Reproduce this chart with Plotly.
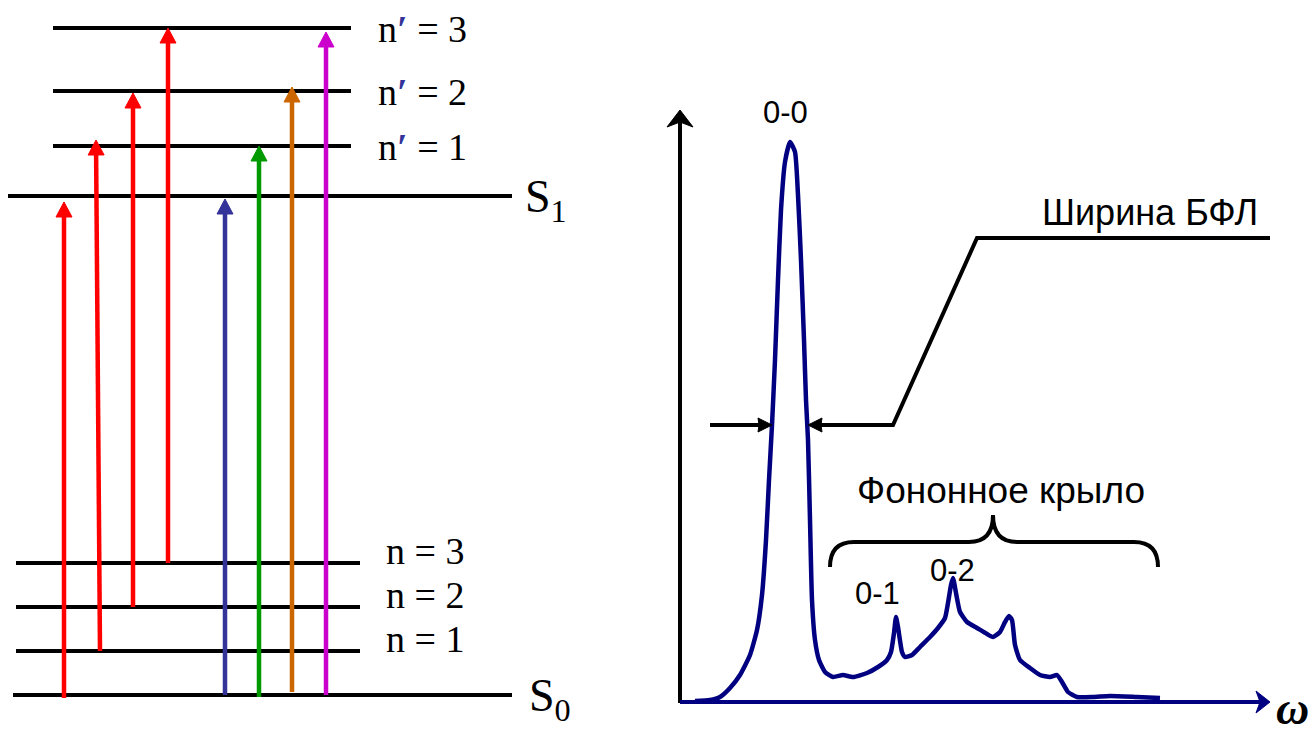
import plotly.graph_objects as go
import numpy as np

# ---------------- data (diagram coordinates, pixel-like units) ----------------
# Left panel: energy levels
upper_vib_labels = ["n′ = 1", "n′ = 2", "n′ = 3"]
upper_vib_y = [146, 91, 28]
upper_vib_x = [53, 351]
s1_label = "S<sub>1</sub>"
s1_y = 196
s1_x = [8, 512]
lower_vib_labels = ["n = 1", "n = 2", "n = 3"]
lower_vib_y = [651, 607, 563]
lower_vib_x = [16, 360]
s0_label = "S<sub>0</sub>"
s0_y = 695
s0_x = [13, 512]

# Transitions (arrows)
trans_x_start = [64, 100, 133, 168, 225, 259, 292, 326]
trans_x_end = [64, 96, 133, 168, 225, 259, 292, 326]
trans_y_start = [698, 651, 607, 563, 695, 697, 692, 695]
trans_y_end = [202, 140, 93, 28, 199, 146, 87, 32]
trans_colors = ["#FF0000", "#FF0000", "#FF0000", "#FF0000",
                "#333399", "#009900", "#CC6600", "#CC00CC"]

# Right panel: spectrum
axis_origin = [680, 702]
axis_x_end = 1270
axis_y_end = 110
spec_x = [695, 710, 720, 730, 740, 750, 757, 762, 766, 769, 772, 775, 778, 781,
          785, 790, 795, 798, 801, 804, 806, 808, 810, 812, 815, 819, 825, 833,
          843, 853, 867, 878, 887, 891, 894, 896, 898, 902, 905, 912, 920, 930,
          938, 945, 948, 951, 953, 956, 960, 967, 977, 987, 993, 1000, 1005,
          1009, 1012, 1015, 1020, 1030, 1040, 1050, 1057, 1062, 1068, 1077,
          1093, 1110, 1137, 1160]
spec_y = [701, 700, 697, 688, 675, 655, 630, 595, 540, 480, 425, 360, 280, 210,
          162, 142, 152, 195, 260, 340, 400, 440, 520, 600, 640, 660, 672, 677,
          675, 677, 673, 667, 660, 652, 633, 617, 627, 652, 657, 655, 647, 637,
          628, 618, 603, 585, 578, 593, 612, 622, 628, 634, 637, 632, 622,
          616, 620, 645, 660, 668, 675, 677, 675, 682, 692, 697,
          697, 696, 697, 698]
peak_labels = ["0-0", "0-1", "0-2"]
peak_label_x = [785, 877, 952]
peak_label_y = [112, 593, 570]
fwhm_y = 425
fwhm_left = 772
fwhm_right = 808
fwhm_text = "Ширина БФЛ"
fwhm_leader_x = [808, 893, 977, 1270]
fwhm_leader_y = [425, 425, 238, 238]
wing_text = "Фононное крыло"
brace_x = [830, 993, 1158]
brace_y = [567, 542, 515]
omega_label = "ω"

SERIF = "Liberation Serif"
SANS = "Liberation Sans"
NAVY = "#000080"

fig = go.Figure()


def add_line(xs, ys, color="black", width=4):
    fig.add_trace(go.Scatter(x=xs, y=ys, mode="lines",
                             line=dict(color=color, width=width),
                             hoverinfo="skip", showlegend=False))


def add_head(tx, ty, dx, dy, color, length=15, half=8, notch=0):
    n = np.hypot(dx, dy)
    ux, uy = dx / n, dy / n
    px, py = -uy, ux
    bx, by = tx - length * ux, ty - length * uy
    xs = [tx, bx + half * px, tx - (length - notch) * ux, bx - half * px, tx]
    ys = [ty, by + half * py, ty - (length - notch) * uy, by - half * py, ty]
    fig.add_trace(go.Scatter(x=xs, y=ys, mode="lines", fill="toself",
                             fillcolor=color, line=dict(color=color, width=1),
                             hoverinfo="skip", showlegend=False))


# levels
for y in upper_vib_y:
    add_line(upper_vib_x, [y, y])
add_line(s1_x, [s1_y, s1_y])
for y in lower_vib_y:
    add_line(lower_vib_x, [y, y])
add_line(s0_x, [s0_y, s0_y])

# transitions
for x0, x1, y0, y1, c in zip(trans_x_start, trans_x_end, trans_y_start,
                             trans_y_end, trans_colors):
    dx, dy = x1 - x0, y1 - y0
    n = np.hypot(dx, dy)
    ex, ey = x1 - 8 * dx / n, y1 - 8 * dy / n
    add_line([x0, ex], [y0, ey], color=c, width=4.5)
    add_head(x1, y1, dx, dy, c, length=15, half=8)

# spectrum axes
ox, oy = axis_origin
add_line([ox, ox], [oy + 1, axis_y_end + 8], color="black", width=4)
add_head(ox, axis_y_end, 0, -1, "black", length=17, half=13, notch=5)
add_line([ox, axis_x_end - 8], [oy, oy], color=NAVY, width=4)
add_head(axis_x_end, oy, 1, 0, NAVY, length=14, half=11, notch=4)

# spectrum curve
fig.add_trace(go.Scatter(x=spec_x, y=spec_y, mode="lines",
                         line=dict(color=NAVY, width=4.5, shape="spline",
                                   smoothing=0.5),
                         hoverinfo="skip", showlegend=False))

# FWHM arrows and leader
add_line([710, fwhm_left - 8], [fwhm_y, fwhm_y])
add_head(fwhm_left, fwhm_y, 1, 0, "black", length=14, half=7, notch=1)
add_line([fwhm_right + 8] + fwhm_leader_x[1:], [fwhm_y] + fwhm_leader_y[1:])
add_head(fwhm_right, fwhm_y, -1, 0, "black", length=14, half=7, notch=1)

# brace
xl, xm, xr = brace_x
yb, yh, yt = brace_y
r = 24
path = (f"M {xl},{yb} Q {xl},{yh} {xl + r},{yh} L {xm - r},{yh} "
        f"Q {xm},{yh} {xm},{yt} Q {xm},{yh} {xm + r},{yh} "
        f"L {xr - r},{yh} Q {xr},{yh} {xr},{yb}")
fig.add_shape(type="path", path=path, xref="x", yref="y",
              line=dict(color="black", width=4))

# ---------------- texts ----------------
ann = []
prime = '<span style="color:#333399"><b>′</b></span>'
for lab, y in zip(upper_vib_labels, upper_vib_y):
    ann.append(dict(x=376, y=y + 1, text=lab.replace("′", prime), xanchor="left",
                    yanchor="middle", font=dict(family=SERIF, size=38, color="black")))
for lab, y in zip(lower_vib_labels, lower_vib_y):
    ann.append(dict(x=384, y=y - 12, text=lab, xanchor="left",
                    yanchor="middle", font=dict(family=SERIF, size=38, color="black")))
ann.append(dict(x=523, y=s1_y + 4, text=s1_label, xanchor="left", yanchor="middle",
                font=dict(family=SERIF, size=46, color="black")))
ann.append(dict(x=527, y=s0_y + 4, text=s0_label, xanchor="left", yanchor="middle",
                font=dict(family=SERIF, size=46, color="black")))
for lab, x, y in zip(peak_labels, peak_label_x, peak_label_y):
    ann.append(dict(x=x, y=y, text=lab, xanchor="center", yanchor="middle",
                    font=dict(family=SANS, size=31, color="black")))
ann.append(dict(x=1150, y=212, text=fwhm_text, xanchor="center", yanchor="middle",
                font=dict(family=SANS, size=36, color="black")))
ann.append(dict(x=1001, y=490, text=wing_text, xanchor="center", yanchor="middle",
                font=dict(family=SANS, size=37, color="black")))
ann.append(dict(x=1310, y=735, text=f"<b><i>{omega_label}</i></b>", xanchor="right",
                yanchor="bottom", borderpad=0,
                font=dict(family=SERIF, size=46, color="black")))
for a in ann:
    a.update(xref="x", yref="y", showarrow=False)

fig.update_layout(
    width=1312, height=736, autosize=False,
    margin=dict(l=0, r=0, t=0, b=0, pad=0),
    paper_bgcolor="white", plot_bgcolor="white",
    xaxis=dict(range=[0, 1312], visible=False, fixedrange=True),
    yaxis=dict(range=[736, 0], visible=False, fixedrange=True),
    annotations=ann,
)

fig.write_html("out.html", config={"displayModeBar": False})
